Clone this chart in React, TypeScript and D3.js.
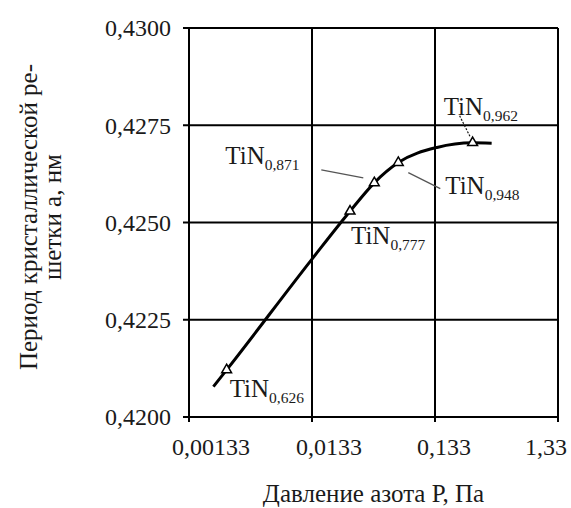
import React, { useRef, useEffect } from 'react';
import * as d3 from 'd3';

// measured points (composition labels)
const pressure = [0.00269, 0.0271, 0.0427, 0.0669, 0.269];
const period = [0.42121, 0.42529, 0.42602, 0.42654, 0.42705];
const phases = ['0,626', '0,777', '0,871', '0,948', '0,962'];

// smooth fitted curve through the data
const curveP = [0.0021, 0.00269, 0.0133, 0.0271, 0.0427, 0.0669, 0.138, 0.269, 0.384];
const curveA = [0.42078, 0.42121, 0.42406, 0.42529, 0.42602, 0.42654, 0.42693, 0.42705, 0.42704];

const xTicks = [0.00133, 0.0133, 0.133, 1.33];
const xTickLabels = ['0,00133', '0,0133', '0,133', '1,33'];
const yTicks = [0.42, 0.4225, 0.425, 0.4275, 0.43];

const App = () => {
    const svgRef = useRef(null);

    useEffect(() => {
        const svg = d3.select(svgRef.current);
        svg.selectAll('*').remove();

        const width = 571;
        const height = 508;
        const m = { left: 189, right: 558, top: 28, bottom: 417 };
        const font = '"Liberation Serif", "Times New Roman", serif';
        const ink = '#1a1a1a';

        const x = d3.scaleLog().domain([0.00133, 1.33]).range([m.left, m.right]);
        const y = d3.scaleLinear().domain([0.42, 0.43]).range([m.bottom, m.top]);

        svg.attr('width', width).attr('height', height);

        // grid + frame
        const grid = svg.append('g').attr('stroke', '#000').attr('stroke-width', 2);
        grid.selectAll('line.v')
            .data(xTicks)
            .join('line')
            .attr('class', 'v')
            .attr('x1', d => x(d)).attr('x2', d => x(d))
            .attr('y1', m.top).attr('y2', m.bottom + 5);
        grid.selectAll('line.h')
            .data(yTicks)
            .join('line')
            .attr('class', 'h')
            .attr('x1', m.left - 6).attr('x2', m.right)
            .attr('y1', d => y(d)).attr('y2', d => y(d));

        // tick labels
        svg.append('g')
            .selectAll('text')
            .data(yTicks)
            .join('text')
            .attr('x', 171)
            .attr('y', d => y(d))
            .attr('dy', '0.35em')
            .attr('text-anchor', 'end')
            .attr('font-family', font)
            .attr('font-size', 24)
            .attr('fill', ink)
            .text(d => d3.format('.4f')(d).replace('.', ','));

        const nudge = [22, 17, 9, -12]; // labels sit a little off their ticks in the source
        svg.append('g')
            .selectAll('text')
            .data(xTicks)
            .join('text')
            .attr('x', (d, i) => x(d) + nudge[i])
            .attr('y', 455)
            .attr('text-anchor', 'middle')
            .attr('font-family', font)
            .attr('font-size', 24)
            .attr('fill', ink)
            .text((d, i) => xTickLabels[i]);

        // axis titles
        svg.append('text')
            .attr('x', (m.left + m.right) / 2)
            .attr('y', 502)
            .attr('text-anchor', 'middle')
            .attr('font-family', font)
            .attr('font-size', 25)
            .attr('fill', ink)
            .text('Давление азота Р, Па');

        const yTitle = svg.append('text')
            .attr('transform', 'translate(0,217) rotate(-90)')
            .attr('text-anchor', 'middle')
            .attr('font-family', font)
            .attr('font-size', 25)
            .attr('fill', ink);
        yTitle.append('tspan').attr('x', 0).attr('y', 37).text('Период кристаллической ре-');
        yTitle.append('tspan').attr('x', 0).attr('y', 61).text('шетки а, нм');

        // curve
        const line = d3.line()
            .x(d => x(d[0]))
            .y(d => y(d[1]))
            .curve(d3.curveMonotoneX);
        svg.append('path')
            .datum(curveP.map((p, i) => [p, curveA[i]]))
            .attr('d', line)
            .attr('fill', 'none')
            .attr('stroke', '#000')
            .attr('stroke-width', 3);

        // markers
        const tri = d3.symbol(d3.symbolTriangle, 42);
        svg.append('g')
            .selectAll('path')
            .data(pressure)
            .join('path')
            .attr('transform', (d, i) => `translate(${x(d)},${y(period[i])})`)
            .attr('d', tri)
            .attr('fill', '#fff')
            .attr('stroke', '#000')
            .attr('stroke-width', 1.5);

        // annotations: label offset and leader line relative to each marker
        const notes = [
            { dx: 3, dy: 27, lead: null },
            { dx: 1, dy: 33, lead: null },
            { dx: -149, dy: -19, lead: [-53, -13, -11, -5], color: '#555', dash: null },
            { dx: 47, dy: 31, lead: [10, 10, 42, 26], color: '#555', dash: null },
            { dx: -29, dy: -28, lead: [-13, -27, -2, -5], color: '#111', dash: '2,1.5' },
        ];

        notes.forEach((n, i) => {
            const px = x(pressure[i]);
            const py = y(period[i]);
            if (n.lead) {
                svg.append('line')
                    .attr('x1', px + n.lead[0]).attr('y1', py + n.lead[1])
                    .attr('x2', px + n.lead[2]).attr('y2', py + n.lead[3])
                    .attr('stroke', n.color)
                    .attr('stroke-width', 1.2)
                    .attr('stroke-dasharray', n.dash);
            }
            const t = svg.append('text')
                .attr('x', px + n.dx)
                .attr('y', py + n.dy)
                .attr('font-family', font)
                .attr('fill', ink);
            t.append('tspan').attr('font-size', 25).text('TiN');
            t.append('tspan').attr('font-size', 15.5).attr('dy', 6).text(phases[i]);
        });
    }, []);

    return <svg ref={svgRef} width={571} height={508} style={{ position: 'absolute', left: 0, top: 0 }}></svg>;
};

export default App;
